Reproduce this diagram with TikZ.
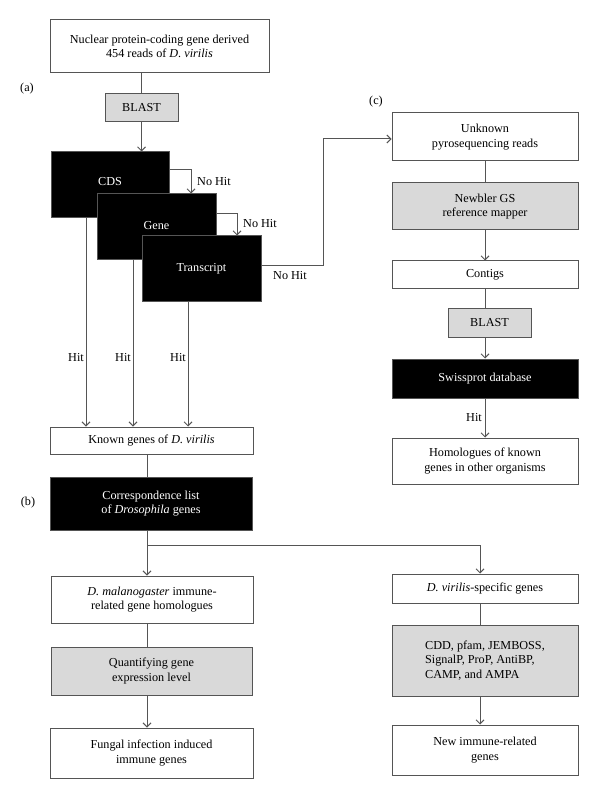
\documentclass[tikz,border=0pt]{standalone}
\usepackage{fontspec}
\setmainfont{Liberation Serif}
\usetikzlibrary{positioning,calc,arrows.meta}
\definecolor{linegray}{HTML}{555555}
\definecolor{boxgray}{HTML}{D9D9D9}
\tikzset{
  whitebox/.style={draw=linegray, fill=white, line width=1pt, align=center, inner sep=0pt,
    font=\fontsize{12.2}{14.5}\selectfont},
  graybox/.style={whitebox, fill=boxgray},
  blackbox/.style={whitebox, fill=black, text=white},
  conn/.style={draw=linegray, line width=1pt},
  arr/.style={conn, -{Straight Barb[length=4pt,width=8pt]}},
  lbl/.style={inner sep=0pt, font=\fontsize{12.2}{14.5}\selectfont},
}

\begin{document}
\begin{tikzpicture}[x=1pt, y=-1pt]
			\fill[white] (0,0) rectangle (600,799);
			% (a) known genes
			\node [whitebox, minimum width=219, minimum height=53] (src) at (159.5,46.5) {Nuclear protein-coding gene derived\\454 reads of \textit{D. virilis}};
			\node [graybox, minimum width=73, minimum height=28] (blasta) at (141.5,108) {BLAST};
			\node [blackbox, minimum width=118, minimum height=66] (cds) at (110,185) {\raisebox{7pt}{CDS}};
			\node [blackbox, minimum width=119, minimum height=66] (gene) at (156.5,227) {\raisebox{4pt}{Gene}};
			\node [blackbox, minimum width=119, minimum height=65] (transcript) at (201.5,268.5) {Transcript};
			\node [whitebox, minimum width=203, minimum height=27] (known) at (151.5,440.5) {Known genes of \textit{D. virilis}};
			% (b) immune genes
			\node [blackbox, minimum width=202, minimum height=53] (corr) at (151,503.5) {Correspondence list\\of \textit{Drosophila} genes};
			\node [whitebox, minimum width=202, minimum height=47] (melano) at (152,599.5) {\textit{D. malanogaster} immune-\\related gene homologues};
			\node [graybox, minimum width=201, minimum height=48] (quant) at (151.5,671) {Quantifying gene\\expression level};
			\node [whitebox, minimum width=203, minimum height=50] (fungal) at (151.5,753) {Fungal infection induced\\immune genes};
			\node [whitebox, minimum width=186, minimum height=29] (virspec) at (485,588.5) {\textit{D. virilis}-specific genes};
			\node [graybox, minimum width=186, minimum height=71, align=left] (tools) at (485,660.5) {CDD, pfam, JEMBOSS,\\SignalP, ProP, AntiBP,\\CAMP, and AMPA};
			\node [whitebox, minimum width=186, minimum height=50] (newimm) at (485,750) {New immune-related\\genes};
			% (c) unknown reads
			\node [whitebox, minimum width=186, minimum height=48] (unknown) at (485,137) {Unknown\\pyrosequencing reads};
			\node [graybox, minimum width=186, minimum height=47] (newbler) at (485,206.5) {Newbler GS\\reference mapper};
			\node [whitebox, minimum width=186, minimum height=27] (contigs) at (485,274.5) {Contigs};
			\node [graybox, minimum width=83, minimum height=29] (blastc) at (489.5,322.5) {BLAST};
			\node [blackbox, minimum width=186, minimum height=39] (swiss) at (485,378.5) {Swissprot database};
			\node [whitebox, minimum width=186, minimum height=46] (homol) at (485,461) {Homologues of known\\genes in other organisms};
			% panel letters
			\node [lbl] at (27,89) {(a)};
			\node [lbl] at (28,503) {(b)};
			\node [lbl] at (376,102) {(c)};
			% connectors (a)
			\draw [conn] (src.south -| blasta) -- (blasta);
			\draw [arr] (blasta) -- (blasta |- cds.north);
			\draw [arr] (cds.east |- 0,170) -| (gene.north -| 191,0);
			\draw [arr] (gene.east |- 0,214) -| (transcript.north -| 237,0);
			\draw [arr] (transcript.east |- 0,265) -| (323,139) -- (unknown.west |- 0,139);
			\node [lbl, right] at (197,182) {No Hit};
			\node [lbl, right] at (243,224) {No Hit};
			\node [lbl, right] at (273,276) {No Hit};
			\draw [arr] (cds.south -| 86,0) -- (known.north -| 86,0);
			\draw [arr] (gene.south -| 133,0) -- (known.north -| 133,0);
			\draw [arr] (transcript.south -| 188,0) -- (known.north -| 188,0);
			\node [lbl, left] at (84,358) {Hit};
			\node [lbl, left] at (131,358) {Hit};
			\node [lbl, left] at (186,358) {Hit};
			% connectors (b)
			\draw [conn] (known.south -| 147,0) -- (corr.north -| 147,0);
			\draw [arr] (corr.south -| 147,0) -- (melano.north -| 147,0);
			\coordinate (split) at (147,545);
			\draw [arr] (split) -| (virspec.north -| 480,0);
			\draw [conn] (melano.south -| 147,0) -- (quant.north -| 147,0);
			\draw [arr] (quant.south -| 147,0) -- (fungal.north -| 147,0);
			\draw [conn] (virspec.south -| 480,0) -- (tools.north -| 480,0);
			\draw [arr] (tools.south -| 480,0) -- (newimm.north -| 480,0);
			% connectors (c)
			\draw [conn] (unknown) -- (newbler);
			\draw [arr] (newbler) -- (contigs);
			\draw [conn] (contigs.south) -- (contigs.south |- blastc.north);
			\draw [arr] (contigs.south |- blastc.south) -- (swiss);
			\draw [arr] (swiss) -- (homol);
			\node [lbl, left] at (482,418) {Hit};
		\end{tikzpicture}
\end{document}
